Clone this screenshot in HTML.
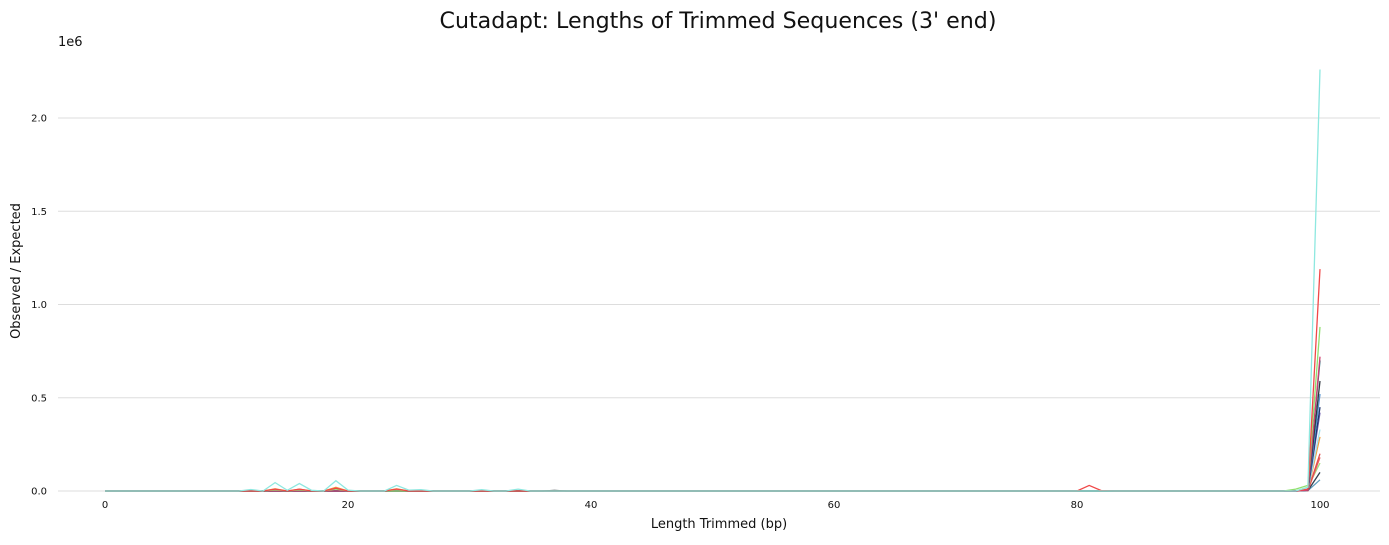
<!DOCTYPE html>
<html><head><meta charset="utf-8"><style>
body{margin:0;background:#fff;font-family:"Liberation Sans","DejaVu Sans",sans-serif}
svg text{font-family:"DejaVu Sans","Liberation Sans",sans-serif}
</style></head><body>
<svg id="chart" width="1389" height="540" xmlns="http://www.w3.org/2000/svg">
<text x="718" y="28" text-anchor="middle" font-size="22" textLength="557" lengthAdjust="spacingAndGlyphs" fill="#111">Cutadapt: Lengths of Trimmed Sequences (3' end)</text>
<text x="58" y="46" font-size="13" fill="#111">1e6</text>
<text transform="translate(20,271) rotate(-90)" text-anchor="middle" font-size="13" fill="#111">Observed / Expected</text>
<text x="719" y="528" text-anchor="middle" font-size="13" fill="#111">Length Trimmed (bp)</text>
<g id="grid"></g><g id="ticks"></g><g id="lines"></g>
</svg>
<script>
const xTicks=[0,20,40,60,80,100];
const yTicks=[0,0.5,1.0,1.5,2.0];
const yTickLabels=["0.0","0.5","1.0","1.5","2.0"];
const seriesColors=["#8ee8e0","#f04848","#90e070","#d04070","#206878","#303840","#5090d0","#203870","#7060b0","#a0e0f0","#f0a040","#e05050","#f06060","#a0e080","#304050","#60a0c0"];
// nonzero points per series: [length, value (1e6)]
const s0=[[12,0.008],[14,0.045],[15,0.004],[16,0.04],[17,0.004],[19,0.055],[20,0.005],[24,0.03],[25,0.005],[26,0.007],[31,0.007],[34,0.01],[99,0.02],[100,2.26]];
const s1=[[14,0.01],[16,0.01],[19,0.015],[24,0.01],[81,0.03],[82,0.002],[99,0.01],[100,1.19]];
const s2=[[14,0.006],[16,0.006],[19,0.01],[98,0.01],[99,0.03],[100,0.88]];
const s3=[[99,0.005],[100,0.72]];
const s4=[[99,0.004],[100,0.70]];
const s5=[[37,0.003],[99,0.004],[100,0.59]];
const s6=[[99,0.004],[100,0.52]];
const s7=[[99,0.003],[100,0.45]];
const s8=[[99,0.003],[100,0.42]];
const s9=[[99,0.003],[100,0.33]];
const s10=[[14,0.012],[16,0.01],[19,0.02],[24,0.012],[99,0.003],[100,0.29]];
const s11=[[99,0.002],[100,0.20]];
const s12=[[99,0.002],[100,0.18]];
const s13=[[99,0.02],[100,0.15]];
const s14=[[99,0.002],[100,0.10]];
const s15=[[99,0.002],[100,0.06]];
const series=[s0,s1,s2,s3,s4,s5,s6,s7,s8,s9,s10,s11,s12,s13,s14,s15];
const xs=d=>105+d*12.15, ys=v=>491-v*186.5;
const NS="http://www.w3.org/2000/svg";
const grid=document.getElementById('grid'),ticks=document.getElementById('ticks'),lines=document.getElementById('lines');
yTicks.forEach((t,i)=>{
 const l=document.createElementNS(NS,'line');
 
 
 l.setAttribute('x1',58);l.setAttribute('x2',1380);l.setAttribute('y1',ys(t));l.setAttribute('y2',ys(t));
 l.setAttribute('stroke','#dddddd');l.setAttribute('stroke-width',1);grid.appendChild(l);
 const tx=document.createElementNS(NS,'text');
 
 
 tx.setAttribute('x',47);tx.setAttribute('y',ys(t)+3.5);tx.setAttribute('text-anchor','end');tx.setAttribute('font-size','10');tx.setAttribute('fill','#111');
 tx.textContent=yTickLabels[i];ticks.appendChild(tx);
});
xTicks.forEach(t=>{
 const tx=document.createElementNS(NS,'text');
 
 
 tx.setAttribute('x',xs(t));tx.setAttribute('y',508);tx.setAttribute('text-anchor','middle');tx.setAttribute('font-size','10');tx.setAttribute('fill','#111');
 tx.textContent=t;ticks.appendChild(tx);
});
series.forEach((pts,si)=>{
 const m={};pts.forEach(p=>m[p[0]]=p[1]);
 let d='';
 for(let x=0;x<=100;x++){const v=m[x]||0;d+=(x?'L':'M')+xs(x).toFixed(1)+','+ys(v).toFixed(1);}
 const p=document.createElementNS(NS,'path');
 
 
 p.setAttribute('d',d);p.setAttribute('fill','none');p.setAttribute('stroke',seriesColors[si]);p.setAttribute('stroke-width',1.3);
 lines.insertBefore(p,lines.firstChild);
});
</script>
</body></html>
